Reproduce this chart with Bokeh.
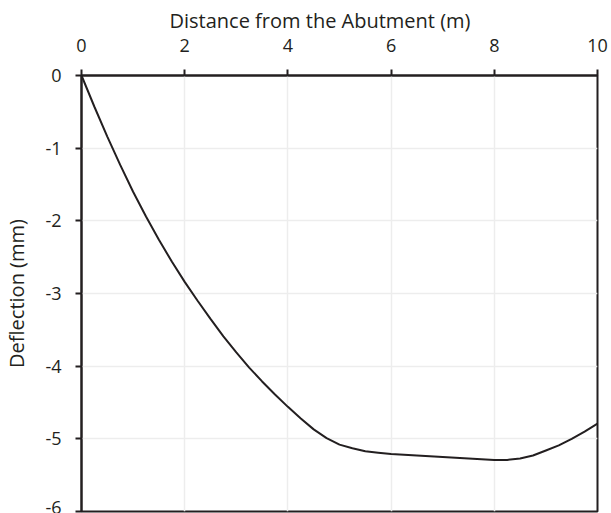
from bokeh.plotting import figure
from bokeh.embed import file_html
from bokeh.resources import INLINE
from bokeh.models import FixedTicker, Range1d, Title

# Data
distance_m = [0, 0.25, 0.5, 0.75, 1.0, 1.25, 1.5, 1.75, 2.0, 2.25, 2.5, 2.75, 3.0, 3.25, 3.5,
              3.75, 4.0, 4.25, 4.5, 4.75, 5.0, 5.25, 5.5, 5.75, 6.0, 6.5, 7.0, 7.5, 7.75, 8.0,
              8.25, 8.5, 8.75, 9.0, 9.25, 9.5, 9.75, 10.0]
deflection_mm = [0, -0.43, -0.84, -1.23, -1.60, -1.94, -2.26, -2.56, -2.84, -3.10, -3.35, -3.59,
                 -3.81, -4.02, -4.21, -4.39, -4.56, -4.72, -4.87, -4.99, -5.08, -5.13, -5.17,
                 -5.19, -5.21, -5.23, -5.25, -5.27, -5.28, -5.29, -5.29, -5.27, -5.23, -5.16,
                 -5.09, -5.00, -4.90, -4.79]

x_ticks = [0, 2, 4, 6, 8, 10]
x_tick_labels = ["0", "2", "4", "6", "8", "10"]
y_ticks = [0, -1, -2, -3, -4, -5, -6]
y_tick_labels = ["0", "-1", "-2", "-3", "-4", "-5", "-6"]

x_title = "Distance from the Abutment (m)"
y_title = "Deflection (mm)"

FONT = "Open Sans"
INK = "#231f20"
GRID = "#ededed"

p = figure(width=611, height=513, output_backend="svg", toolbar_location=None,
           x_axis_location="above",
           x_range=Range1d(0, 10), y_range=Range1d(-6, 0),
           min_border_left=80, min_border_right=14, min_border_top=75, min_border_bottom=2)

p.background_fill_color = "white"
p.border_fill_color = "white"
p.outline_line_color = INK
p.outline_line_width = 2
p.outline_line_alpha = 1

p.line(distance_m, deflection_mm, line_color=INK, line_width=2)

# x axis title placed as a plot title so it can be positioned like the reference
p.title = Title(text=x_title, align="left", offset=88, text_font=FONT,
                text_font_size="20px", text_font_style="normal", text_color=INK,
                standoff=3)

# x axis (top)
xa = p.xaxis[0]
xa.ticker = FixedTicker(ticks=x_ticks)
xa.major_label_overrides = {t: s for t, s in zip(x_ticks, x_tick_labels)}
xa.major_label_text_font = FONT
xa.major_label_text_font_size = "18px"
xa.major_label_text_color = INK
xa.major_label_standoff = 18
xa.major_tick_out = 6
xa.major_tick_in = 0
xa.minor_tick_out = 0
xa.minor_tick_in = 0
xa.major_tick_line_color = INK
xa.major_tick_line_width = 2
xa.axis_line_color = INK
xa.axis_line_width = 2

# y axis (left)
ya = p.yaxis[0]
ya.ticker = FixedTicker(ticks=y_ticks)
ya.major_label_overrides = {t: s for t, s in zip(y_ticks, y_tick_labels)}
ya.axis_label = y_title
ya.axis_label_text_font = FONT
ya.axis_label_text_font_size = "20px"
ya.axis_label_text_font_style = "normal"
ya.axis_label_text_color = INK
ya.axis_label_standoff = 12
ya.major_label_text_font = FONT
ya.major_label_text_font_size = "18px"
ya.major_label_text_color = INK
ya.major_label_standoff = 14
ya.major_tick_out = 6
ya.major_tick_in = 0
ya.minor_tick_out = 0
ya.minor_tick_in = 0
ya.major_tick_line_color = INK
ya.major_tick_line_width = 2
ya.axis_line_color = INK
ya.axis_line_width = 2

p.xgrid.ticker = FixedTicker(ticks=x_ticks)
p.ygrid.ticker = FixedTicker(ticks=y_ticks)
p.grid.grid_line_color = GRID
p.grid.grid_line_width = 1.5

open("out.html", "w").write(file_html(p, INLINE))
